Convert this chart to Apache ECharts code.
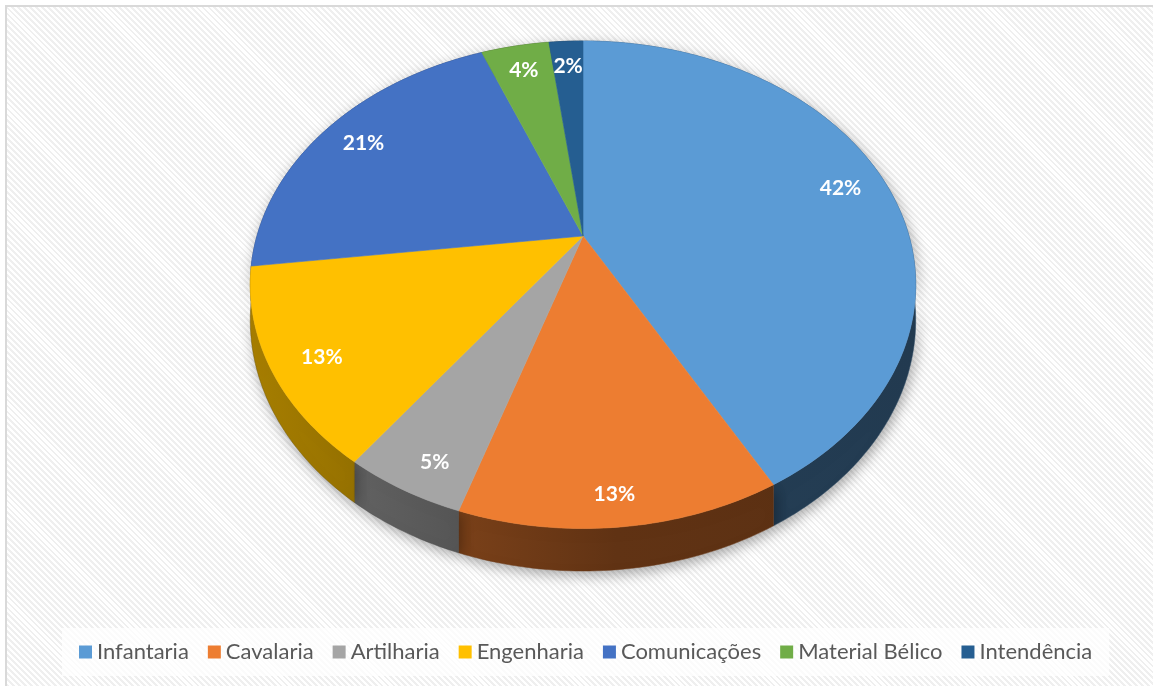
<!DOCTYPE html>
<html>
<head>
<meta charset="utf-8">
<script src="https://cdn.jsdelivr.net/npm/echarts@6/dist/echarts.min.js"></script>
<style>
  html, body { margin: 0; padding: 0; background: #ffffff; }
  #bg {
    position: absolute; left: 5px; top: 5px; width: 1160px; height: 700px;
    border-top: 2px solid #d9d9d9; border-left: 2px solid #d9d9d9;
    background: repeating-linear-gradient(45deg, #ffffff 0px, #ffffff 2.2px, #efefef 2.2px, #efefef 4.2px);
  }
  #chart { position: absolute; left: 0; top: 0; width: 1153px; height: 686px; }
</style>
</head>
<body>
<div id="bg"></div>
<div id="chart"></div>
<script>
// ---- data ----
const categories = ['Infantaria', 'Cavalaria', 'Artilharia', 'Engenharia', 'Comunicações', 'Material Bélico', 'Intendência'];
const values = [42, 13, 5, 13, 21, 4, 2];
const colors = ['#5B9BD5', '#ED7D31', '#A5A5A5', '#FFC000', '#4472C4', '#70AD47', '#255E91'];

// ---- 3D pie projection (tilted disc seen in perspective) ----
const CX = 583, CY = 236, A = 326, B = 234, K = 0.2, H = 34;
const total = values.reduce((s, v) => s + v, 0);
const starts = [];
values.reduce((acc, v, i) => { starts[i] = acc; return acc + v; }, 0);

function proj(r, th, drop) {
  const u = r * Math.sin(th), v = r * Math.cos(th);
  const w = 1 + K * v;
  return [CX + A * u / w, CY - B * v / w + (drop || 0) / w];
}
function shade(hex, f) {
  const n = parseInt(hex.slice(1), 16);
  const r = Math.round(((n >> 16) & 255) * f), g = Math.round(((n >> 8) & 255) * f), b = Math.round((n & 255) * f);
  return 'rgb(' + r + ',' + g + ',' + b + ')';
}

function makeRender(idx) {
  return function (params, api) {
    const val = api.value(0);
    const a0 = starts[idx] / total * Math.PI * 2;
    const a1 = (starts[idx] + val) / total * Math.PI * 2;
    const steps = Math.max(4, Math.ceil((a1 - a0) / (Math.PI / 180)));
    const topArc = [], botArc = [];
    for (let s = 0; s <= steps; s++) {
      const t = a0 + (a1 - a0) * s / steps;
      topArc.push(proj(1, t, 0));
      botArc.push(proj(1, t, H));
    }
    const col = colors[idx];
    const side = {
      type: 'polygon', z2: 1,
      shape: { points: topArc.concat(botArc.slice().reverse()) },
      style: {
        fill: new echarts.graphic.LinearGradient(250, 0, 915, 0, [
          { offset: 0, color: shade(col, 0.66) },
          { offset: 0.55, color: shade(col, 0.41) },
          { offset: 1, color: shade(col, 0.38) }
        ], true),
        stroke: shade(col, 0.45), lineWidth: 0.5,
        shadowBlur: 14, shadowColor: 'rgba(0,0,0,0.35)', shadowOffsetY: 4, shadowOffsetX: 2
      }
    };
    const top = {
      type: 'polygon', z2: 10,
      shape: { points: [[CX, CY]].concat(topArc) },
      style: { fill: col, stroke: col, lineWidth: 0.6 }
    };
    const mid = (a0 + a1) / 2;
    const p = proj(0.85, mid, 0);
    const vv = 0.85 * Math.cos(mid);
    const label = {
      type: 'text', z2: 20,
      style: {
        text: val + '%', x: p[0], y: p[1] + 23 * Math.max(0, -vv),
        fill: '#ffffff', font: 'bold 21px Lato, "Open Sans", sans-serif',
        align: 'center', verticalAlign: 'middle'
      }
    };
    return { type: 'group', children: [side, top, label] };
  };
}

const chart = echarts.init(document.getElementById('chart'), null, { renderer: 'canvas' });
chart.setOption({
  animation: false,
  backgroundColor: 'transparent',
  legend: {
    data: categories,
    left: 62, top: 628,
    padding: [13, 17],
    backgroundColor: 'rgba(255,255,255,0.75)',
    icon: 'rect', itemWidth: 13, itemHeight: 13, itemGap: 19,
    textStyle: { color: '#595959', fontSize: 22, fontFamily: 'Lato, "Open Sans", sans-serif' },
    selectedMode: false
  },
  series: categories.map((name, i) => ({
    type: 'custom',
    name: name,
    coordinateSystem: 'none',
    z: 2,
    silent: true,
    itemStyle: { color: colors[i] },
    data: [[values[i]]],
    renderItem: makeRender(i)
  }))
});
</script>
</body>
</html>
